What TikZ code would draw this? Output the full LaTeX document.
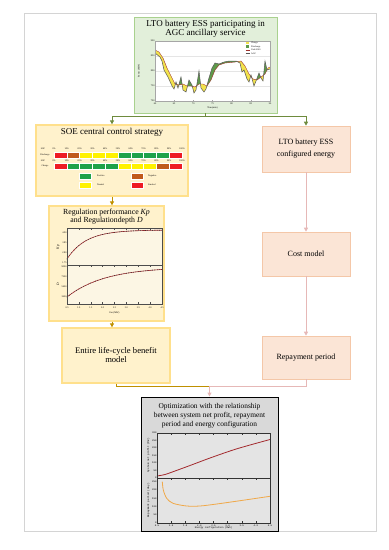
\documentclass[tikz,border=0pt]{standalone}
\usepackage{fontspec}
\setmainfont{Liberation Serif}
\setmonofont{Liberation Mono}
\usetikzlibrary{arrows.meta}
\definecolor{framegray}{HTML}{D4D4D4}
\definecolor{greenfill}{HTML}{E2EFDA}
\definecolor{greendraw}{HTML}{A9D18E}
\definecolor{greenarrow}{HTML}{6E8B3D}
\definecolor{goldfill}{HTML}{FFF2CC}
\definecolor{golddraw}{HTML}{FFE08C}
\definecolor{goldarrow}{HTML}{BF9000}
\definecolor{pinkfill}{HTML}{FBE5D6}
\definecolor{pinkdraw}{HTML}{F4C7A8}
\definecolor{pinkarrow}{HTML}{E6B8B7}
\definecolor{optfill}{HTML}{D9D9D9}
\definecolor{plotgray}{HTML}{E4E4E4}
\definecolor{plotcream}{HTML}{FCF6E4}
\definecolor{socred}{HTML}{EE1C25}
\definecolor{socbrown}{HTML}{C05A1C}
\definecolor{socyellow}{HTML}{FFF200}
\definecolor{socgreen}{HTML}{1FA24A}
\definecolor{chargefill}{HTML}{F2E34C}
\definecolor{dischargefill}{HTML}{5E9A4A}
\definecolor{unitred}{HTML}{A0302C}
\definecolor{curvered}{HTML}{A32A2E}
\definecolor{curveorange}{HTML}{F0A848}

\begin{document}
\begin{tikzpicture}[x=1pt,y=-1pt,
greenbox/.style={draw=greendraw,fill=greenfill,line width=0.8pt,inner sep=0pt},
goldbox/.style={draw=golddraw,fill=goldfill,line width=1.3pt,inner sep=0pt,align=center},
pinkbox/.style={draw=pinkdraw,fill=pinkfill,line width=0.6pt,inner sep=0pt,align=center,minimum width=88pt,font=\fontsize{8}{12}\selectfont},
optbox/.style={draw=black,fill=optfill,line width=0.9pt,inner sep=0pt},
titletext/.style={align=center,inner sep=0pt},
ticklabel/.style={inner sep=0.3pt,font=\fontsize{2.4}{2.6}\selectfont},
socfont/.style={inner sep=0pt,font=\fontsize{2.3}{2.5}\selectfont},
greenline/.style={draw=greenarrow,line width=0.9pt},
goldline/.style={draw=goldarrow,line width=0.9pt},
pinkline/.style={draw=pinkarrow,line width=0.9pt},
tip/.style={-{Triangle[length=4pt,width=4pt]}},
agcline/.style={insert path={-- (155,53) -- (160,57) -- (162,61) -- (164,70) -- (168,77) -- (172,86) -- (174,89) -- (176,82) -- (178,88) -- (181,77) -- (183,90) -- (186,92) -- (189,80) -- (192,85) -- (194,93) -- (196,90) -- (199,71) -- (201,88) -- (204,92) -- (206,89) -- (209,78) -- (212,68) -- (215,63) -- (219,64) -- (224,62) -- (229,61) -- (236,61) -- (240,63) -- (242,72) -- (244,70) -- (247,79) -- (249,82) -- (251,75) -- (254,86) -- (256,81) -- (259,73) -- (261,78) -- (263,81) -- (265,61) -- (267,70) -- (270,69)}},
unitline/.style={insert path={-- (155,50) -- (159,52) -- (163,58) -- (167,68) -- (171,76) -- (175,84) -- (179,85) -- (183,84) -- (187,86) -- (191,86) -- (195,87) -- (199,84) -- (203,84) -- (207,86) -- (211,80) -- (215,70) -- (219,65) -- (225,63) -- (235,62) -- (241,61) -- (245,66) -- (249,74) -- (253,79) -- (257,80) -- (261,77) -- (265,74) -- (268,68) -- (270,67)}}]
\useasboundingbox (0,0) rectangle (389,550);
\draw[framegray,line width=1pt] (24,13) rectangle (376,531);

% boxes
\node[greenbox,minimum width=143pt,minimum height=96pt] (ltoagc) at (205.5,65) {};
\node[goldbox,minimum width=152pt,minimum height=71pt] (soe) at (112,160.5) {};
\node[goldbox,minimum width=115pt,minimum height=115pt] (regkp) at (106.5,263.5) {};
\node[goldbox,minimum width=108pt,minimum height=55pt,font=\fontsize{8.6}{9}\selectfont] (lifecycle) at (116,355.5) {Entire life-cycle benefit\\model};
\node[pinkbox,minimum height=46pt] (cfgenergy) at (306,149) {LTO battery ESS\\configured energy};
\node[pinkbox,minimum height=44pt] (costmodel) at (306,254) {Cost model};
\node[pinkbox,minimum height=43pt] (repay) at (306,357.5) {Repayment period};
\node[optbox,minimum width=137pt,minimum height=134pt] (optim) at (209.5,464) {};

% titles
\node[titletext,font=\fontsize{9}{9}\selectfont] (ltoagctitle) at (205.5,29) {LTO battery ESS participating in\\AGC ancillary service};
\node[titletext,font=\fontsize{9}{9}\selectfont] (soetitle) at (112,132) {SOE central control strategy};
\node[titletext,font=\fontsize{7.8}{8}\selectfont] (regkptitle) at (106.5,216.5) {Regulation performance \textit{Kp}\\and Regulationdepth \textit{D}};
\node[titletext,font=\fontsize{7.4}{9}\selectfont] (optimtitle) at (209.5,415.5) {Optimization with the relationship\\between system net profit, repayment\\period and energy configuration};

% connectors
\coordinate (gsplit) at (205.5,116);
\coordinate (merge) at (209.5,386);
\draw[greenline] (ltoagc.south) -- (gsplit);
\draw[greenline,tip] (gsplit) -| (soe.north);
\draw[greenline,tip] (gsplit) -| (cfgenergy.north);
\draw[goldline,tip] (soe.south) -- (soe.south |- regkp.north);
\draw[goldline,tip] (regkp.south -| soe.south) -- (soe.south |- lifecycle.north);
\draw[pinkline,tip] (cfgenergy.south) -- (costmodel.north);
\draw[pinkline,tip] (costmodel.south) -- (repay.north);
\draw[goldline] (lifecycle.south) |- (merge);
\draw[pinkline] (repay.south) |- (merge);
\draw[pinkline,tip] (merge) -- (optim.north);

% AGC chart
\fill[white] (155,41) rectangle (270,101);
\foreach \i in {1,2,3} \draw[gray!20,line width=0.2pt] (155,{41+15*\i}) -- (270,{41+15*\i});
\begin{scope}
\clip (155,101) [agcline] -- (270,101) -- cycle;
\fill[dischargefill] (155,41) [unitline] -- (270,41) -- cycle;
\end{scope}
\begin{scope}
\clip (155,101) [unitline] -- (270,101) -- cycle;
\fill[chargefill] (155,41) [agcline] -- (270,41) -- cycle;
\end{scope}
\draw[unitred,line width=0.4pt] (155,50) [unitline];
\draw[gray!70!black,line width=0.5pt] (155,53) [agcline];
\draw[gray!70,line width=0.4pt] (155,41) rectangle (270,101);
\foreach \v [count=\i from 0] in {900,850,800,750,700} \node[ticklabel,anchor=east] (pw\i) at (155,{41+15*\i}) {\v};
\foreach \v [count=\i from 0] in {60,65,70,75,80,85,90} {
\draw[gray!70,line width=0.3pt] ({155+115*\i/6},101) -- ({155+115*\i/6},99.5);
\node[ticklabel] (tm\i) at ({155+115*\i/6},103.5) {\v};
}
\node[ticklabel,rotate=90] (pwlabel) at (139,71) {Power (MW)};
\node[ticklabel] (tmlabel) at (212.5,108) {Time(min)};
\fill[chargefill] (246,41.8) rectangle (249,44.2);
\node[socfont,anchor=west] (lgcharge) at (251,43) {Charge};
\fill[dischargefill] (246,45.3) rectangle (249,47.7);
\node[socfont,anchor=west] (lgdischarge) at (251,46.5) {Discharge};
\draw[unitred,line width=0.4pt] (245.5,50) -- (249.5,50);
\node[socfont,anchor=west] (lgunit) at (251,50) {Unit+ESS};
\draw[gray!70!black,line width=0.4pt] (245.5,53.5) -- (249.5,53.5);
\node[socfont,anchor=west] (lgagc) at (251,53.5) {AGC};

% SOE bars
\node[socfont] (socone) at (43,149) {SOC};
\node[socfont] (soctwo) at (43,160.5) {SOC};
\node[socfont] (rowdis) at (45,155) {Discharge};
\node[socfont] (rowchg) at (45,166) {Charge};
\foreach \v [count=\i from 0] in {0,10,20,30,40,50,60,70,80,90,100} {
\node[socfont] (sa\i) at ({54+12.8*\i},149) {\v\%};
\node[socfont] (sb\i) at ({54+12.8*\i},160.5) {\v\%};
}
\foreach \c [count=\i from 0] in {socred,socbrown,socyellow,socyellow,socyellow,socgreen,socgreen,socgreen,socgreen,socred}
\filldraw[fill=\c,draw=white,line width=0.5pt] ({54+12.8*\i},152) rectangle ({66.8+12.8*\i},158.5);
\foreach \c [count=\i from 0] in {socred,socgreen,socgreen,socgreen,socgreen,socyellow,socyellow,socyellow,socbrown,socred}
\filldraw[fill=\c,draw=white,line width=0.5pt] ({54+12.8*\i},163) rectangle ({66.8+12.8*\i},169.5);
\filldraw[fill=socgreen,draw=white] (79,173) rectangle (91,179.5);
\node[socfont,anchor=west] (lgpos) at (97,176) {Positive};
\filldraw[fill=socbrown,draw=white] (131,173) rectangle (143,179.5);
\node[socfont,anchor=west] (lgneg) at (148,176) {Negative};
\filldraw[fill=socyellow,draw=white] (79,182) rectangle (91,188.5);
\node[socfont,anchor=west] (lgneu) at (97,185) {Neutral};
\filldraw[fill=socred,draw=white] (131,182) rectangle (143,188.5);
\node[socfont,anchor=west] (lglim) at (148,185) {Limited};

% Kp and D chart
\fill[plotcream] (67,228) rectangle (162,304);
\draw[curvered,line width=0.6pt] plot[domain=0:1,samples=40] ({67+95*\x},{259-29*(1-exp(-5*\x))});
\draw[curvered,line width=0.6pt] plot[domain=0:1,samples=40] ({67+95*\x},{297-30*(1-exp(-2.5*\x))});
\foreach \q in {0,0.025,...,1} {
\fill[black!80] ({67+95*\q},{259-29*(1-exp(-5*\q))}) circle (0.45pt);
\fill[black!80] ({67+95*\q},{297-30*(1-exp(-2.5*\q))}) circle (0.45pt);
}
\draw[black!70,line width=0.4pt] (67,228) rectangle (162,304);
\draw[black!70,line width=0.4pt] (67,265) -- (162,265);
\foreach \i in {0,...,8} {
\draw[black!70,line width=0.3pt] ({67+95*\i/8},228) -- ({67+95*\i/8},230);
\draw[black!70,line width=0.3pt] ({67+95*\i/8},265) -- ({67+95*\i/8},267);
\draw[black!70,line width=0.3pt] ({67+95*\i/8},304) -- ({67+95*\i/8},302);
}
\foreach \v [count=\i from 0] in {4.90,3.85,2.80,1.75} \node[ticklabel,anchor=east] (kpt\i) at (67,{233+10*\i}) {\v};
\foreach \v [count=\i from 0] in {9000,7200,5400,3600} \node[ticklabel,anchor=east] (dt\i) at (67,{267+10*\i}) {\v};
\foreach \v [count=\i from 0] in {0.5,1.0,1.5,2.0,2.5,3.0,3.5,4.0,4.5} \node[ticklabel] (est\i) at ({67+95*\i/8},307.5) {\v};
\node[ticklabel] (eslabel) at (114.5,312.5) {Ess (MW)};
\node[inner sep=0pt,font=\fontsize{3.5}{4}\selectfont\itshape,rotate=90] (kplabel) at (58,247) {Kp};
\node[inner sep=0pt,font=\fontsize{3.5}{4}\selectfont\itshape,rotate=90] (dlabel) at (58,284) {D};

% profit and repayment chart
\fill[plotgray] (157,433) rectangle (270,523);
\draw[curvered,line width=0.8pt] plot[smooth] coordinates {(157,476) (165,474.5) (175,471) (190,465.5) (210,458) (233,450) (250,445) (270,439.5)};
\draw[curveorange,line width=0.8pt] plot[smooth] coordinates {(162.3,481.7) (163.3,490) (166.7,498.3) (173,503.3) (186.7,506) (200,506) (216.7,504) (240,500.7) (270,496.3)};
\draw[black!80,line width=0.4pt] (157,433) rectangle (270,523);
\draw[black!80,line width=0.4pt] (157,478) -- (270,478);
\foreach \i in {0,...,8} {
\draw[black!80,line width=0.3pt] ({157+113*\i/8},433) -- ({157+113*\i/8},435);
\draw[black!80,line width=0.3pt] ({157+113*\i/8},478) -- ({157+113*\i/8},480);
\draw[black!80,line width=0.3pt] ({157+113*\i/8},523) -- ({157+113*\i/8},521);
}
\foreach \v [count=\i from 0] in {0,50,100,150,200,250,300} \node[ticklabel,anchor=east,font=\fontsize{2.4}{2.6}\ttfamily] (npt\i) at (157,{478-7.5*\i}) {\v};
\foreach \v [count=\i from 0] in {0,50,100,150,200,250} \node[ticklabel,anchor=east,font=\fontsize{2.4}{2.6}\ttfamily] (rpt\i) at (157,{523-8.2*\i}) {\v};
\foreach \v [count=\i from 0] in {0.5,1.0,1.5,2.0,2.5,3.0,3.5,4.0,4.5} \node[ticklabel,font=\fontsize{2.4}{2.6}\ttfamily] (ect\i) at ({157+113*\i/8},525.3) {\v};
\node[ticklabel,font=\fontsize{2.4}{2.6}\ttfamily] (eclabel) at (213.5,528.3) {Energy configuration (MWh)};
\node[ticklabel,font=\fontsize{2.6}{2.8}\ttfamily,rotate=90] (nplabel) at (148.5,455.5) {System net profit (M¥)};
\node[ticklabel,font=\fontsize{2.6}{2.8}\ttfamily,rotate=90] (rplabel) at (148.5,500.5) {Repayment period (day)};
\end{tikzpicture}
\end{document}
